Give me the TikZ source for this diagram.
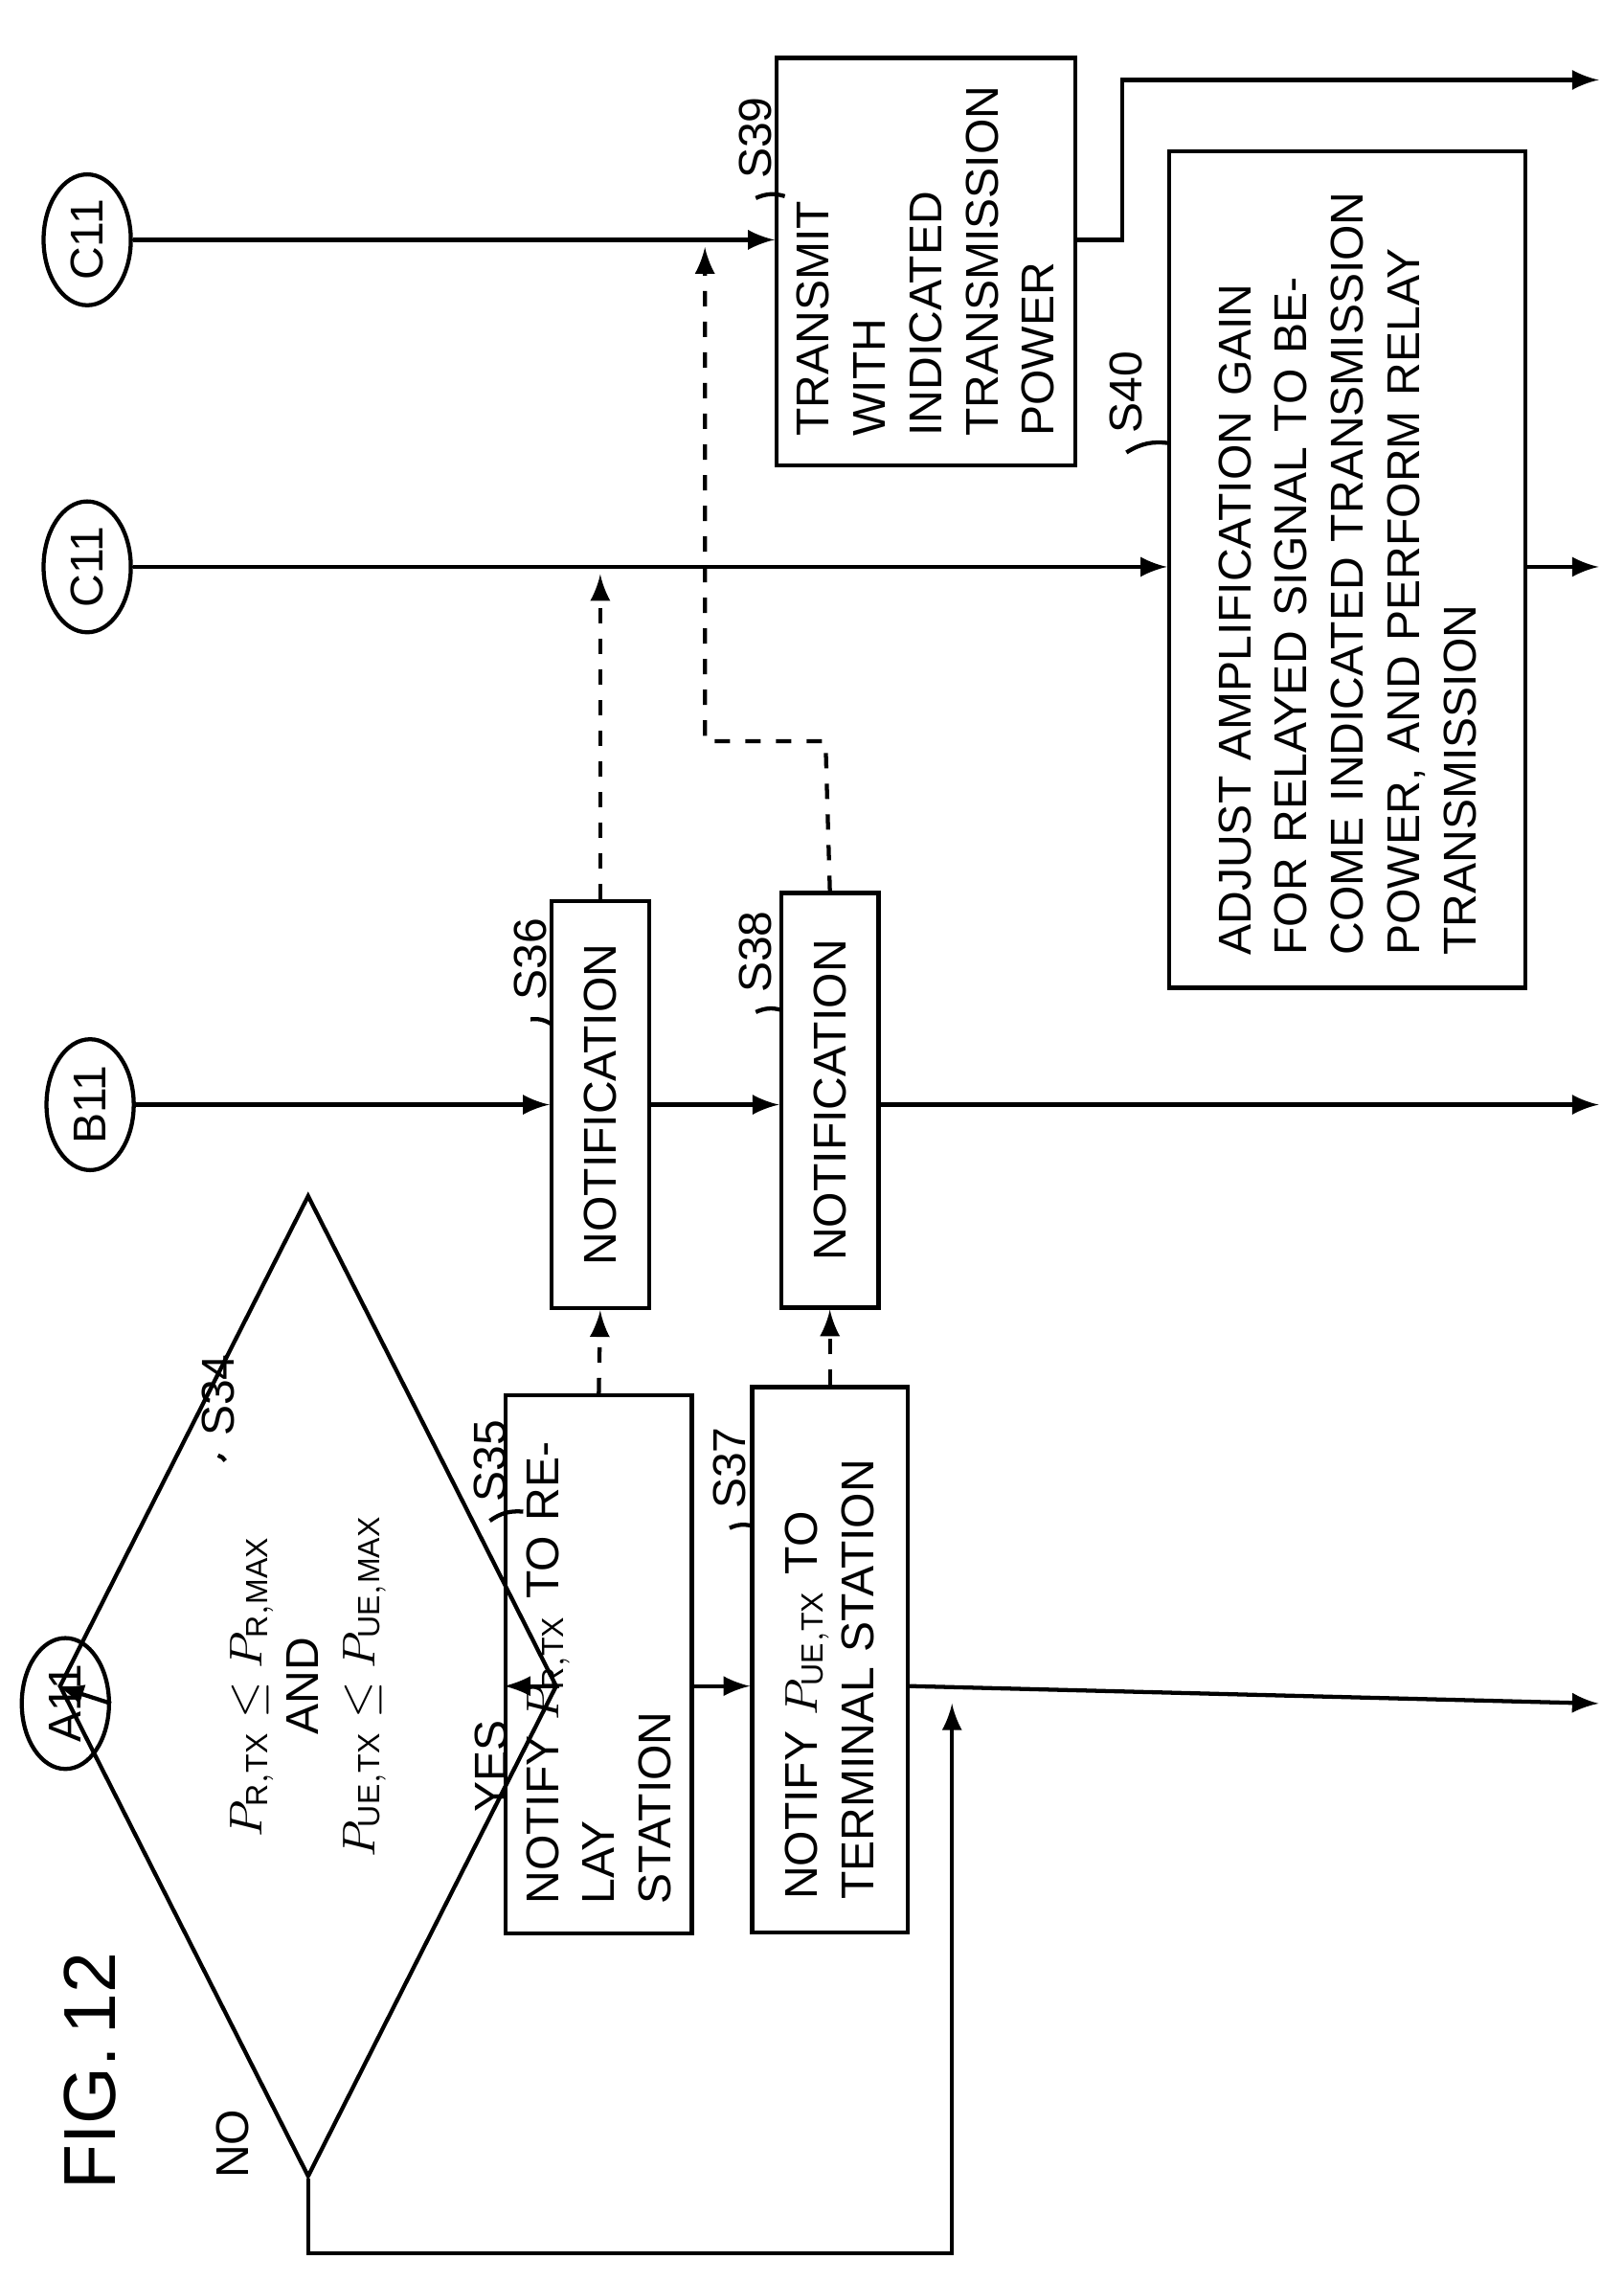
\documentclass[tikz,border=0pt]{standalone}
\usepackage{fontspec}
\setmainfont{Liberation Sans}
\usetikzlibrary{shapes.geometric}
\begin{document}
\begin{tikzpicture}[>=latex,x=0.01cm,y=-0.01cm,line width=0.8pt,
	term/.style={ellipse,draw,rotate=90,minimum width=0.9cm,minimum height=0.6cm,inner sep=1pt,font=\small},
	proc/.style={draw,rotate=90,align=left,inner sep=4pt,font=\small},
	lbl/.style={rotate=90,font=\small},
	sig/.style={->,dashed}]
	\useasboundingbox (0,0) rectangle (1117,1570);
	\node[lbl,font=\Large] (fig) at (62,1425) {FIG.\,12};
	% terminals
	\node[term] (c11a) at (60,165) {C11};
	\node[term] (c11b) at (60,390) {C11};
	\node[term] (b11) at (62,760) {B11};
	\node[term] (a11) at (45,1172) {A11};
	% decision
	\node[diamond,draw,rotate=90,minimum width=6.75cm,minimum height=2.25cm,inner sep=0pt,align=center,font=\small] (s34) at (212,1160)
		{$P_{\mathrm{R,TX}} \le P_{\mathrm{R,MAX}}$\\AND\\$P_{\mathrm{UE,TX}} \le P_{\mathrm{UE,MAX}}$};
	% boxes
	\node[proc,minimum width=3.7cm,minimum height=1.05cm,text width=3.3cm] (s35) at (412,1145)
		{NOTIFY $P_{\mathrm{R,TX}}$ TO RELAY\\STATION};
	\node[proc,minimum width=3.75cm,minimum height=1.07cm,text width=3.3cm] (s37) at (571,1142)
		{NOTIFY $P_{\mathrm{UE,TX}}$ TO\\TERMINAL STATION};
	\node[proc,minimum width=2.8cm,minimum height=0.67cm,align=center] (s36) at (413,760) {NOTIFICATION};
	\node[proc,minimum width=2.85cm,minimum height=0.67cm,align=center] (s38) at (571,757) {NOTIFICATION};
	\node[proc,minimum width=2.8cm,minimum height=1.95cm,text width=2.4cm] (s39) at (637,180)
		{TRANSMIT WITH\\INDICATED\\TRANSMISSION\\POWER};
	\node[proc,minimum width=5.75cm,minimum height=2.45cm,text width=5.3cm] (s40) at (927,392)
		{ADJUST AMPLIFICATION GAIN FOR RELAYED SIGNAL TO BECOME INDICATED TRANSMISSION POWER, AND PERFORM RELAY TRANSMISSION};
	% step labels
	\node[lbl] (l34) at (150,960) {S34};
	\node[lbl] (l35) at (337,1005) {S35};
	\node[lbl] (l36) at (365,660) {S36};
	\node[lbl] (l37) at (502,1010) {S37};
	\node[lbl] (l38) at (520,655) {S38};
	\node[lbl] (l39) at (520,95) {S39};
	\node[lbl] (l40) at (775,270) {S40};
	\draw (l34.west) to[bend left=20] (155,1005);
	\draw (l35.west) to[bend left=20] (360,1040);
	\draw (l36.west) to[bend left=20] (380,705);
	\draw (l37.west) to[bend left=20] (518,1050);
	\draw (l38.west) to[bend left=20] (538,695);
	\draw (l39.west) to[bend left=20] (540,135);
	\draw (l40.west) to[bend left=20] (805,305);
	\node[lbl] (yes) at (338,1215) {YES};
	\node[lbl] (no) at (160,1475) {NO};
	% coordinates
	\coordinate (ea) at (1100,1172);
	\coordinate (eb) at (1100,760);
	\coordinate (ec) at (1100,390);
	\coordinate (ed) at (1100,55);
	\coordinate (no1) at (212,1550);
	\coordinate (no2) at (655,1550);
	\coordinate (j1) at (655,1172);
	\coordinate (k1) at (772,165);
	\coordinate (k2) at (772,55);
	\coordinate (d1) at (568,510);
	\coordinate (d2) at (485,510);
	% flow
	\draw[->] (a11.south) -- (s34.north);
	\draw[->] (s34.south) -- (s34.south -| s35.north);
	\draw[->] (s34.south -| s35.south) -- (s34.south -| s37.north);
	\draw[->] (s34.south -| s37.south) -- (ea);
	\draw[->] (s34.west) -- (no1) -- (no2) -- (j1);
	\draw[->] (b11.south) -- (b11.south -| s36.north);
	\draw[->] (b11.south -| s36.south) -- (b11.south -| s38.north);
	\draw[->] (b11.south -| s38.south) -- (eb);
	\draw[->] (c11b.south) -- (c11b.south -| s40.north);
	\draw[->] (c11b.south -| s40.south) -- (ec);
	\draw[->] (c11a.south) -- (c11a.south -| s39.north);
	\draw[->] (c11a.south -| s39.south) -- (k1) -- (k2) -- (ed);
	% notifications
	\draw[sig] (s35.east) -- (s36.west);
	\draw[sig] (s37.east) -- (s38.west);
	\draw[sig] (s36.east) -- (413,395);
	\draw[sig] (s38.east) -- (d1) -- (d2) -- (485,170);
\end{tikzpicture}
\end{document}
